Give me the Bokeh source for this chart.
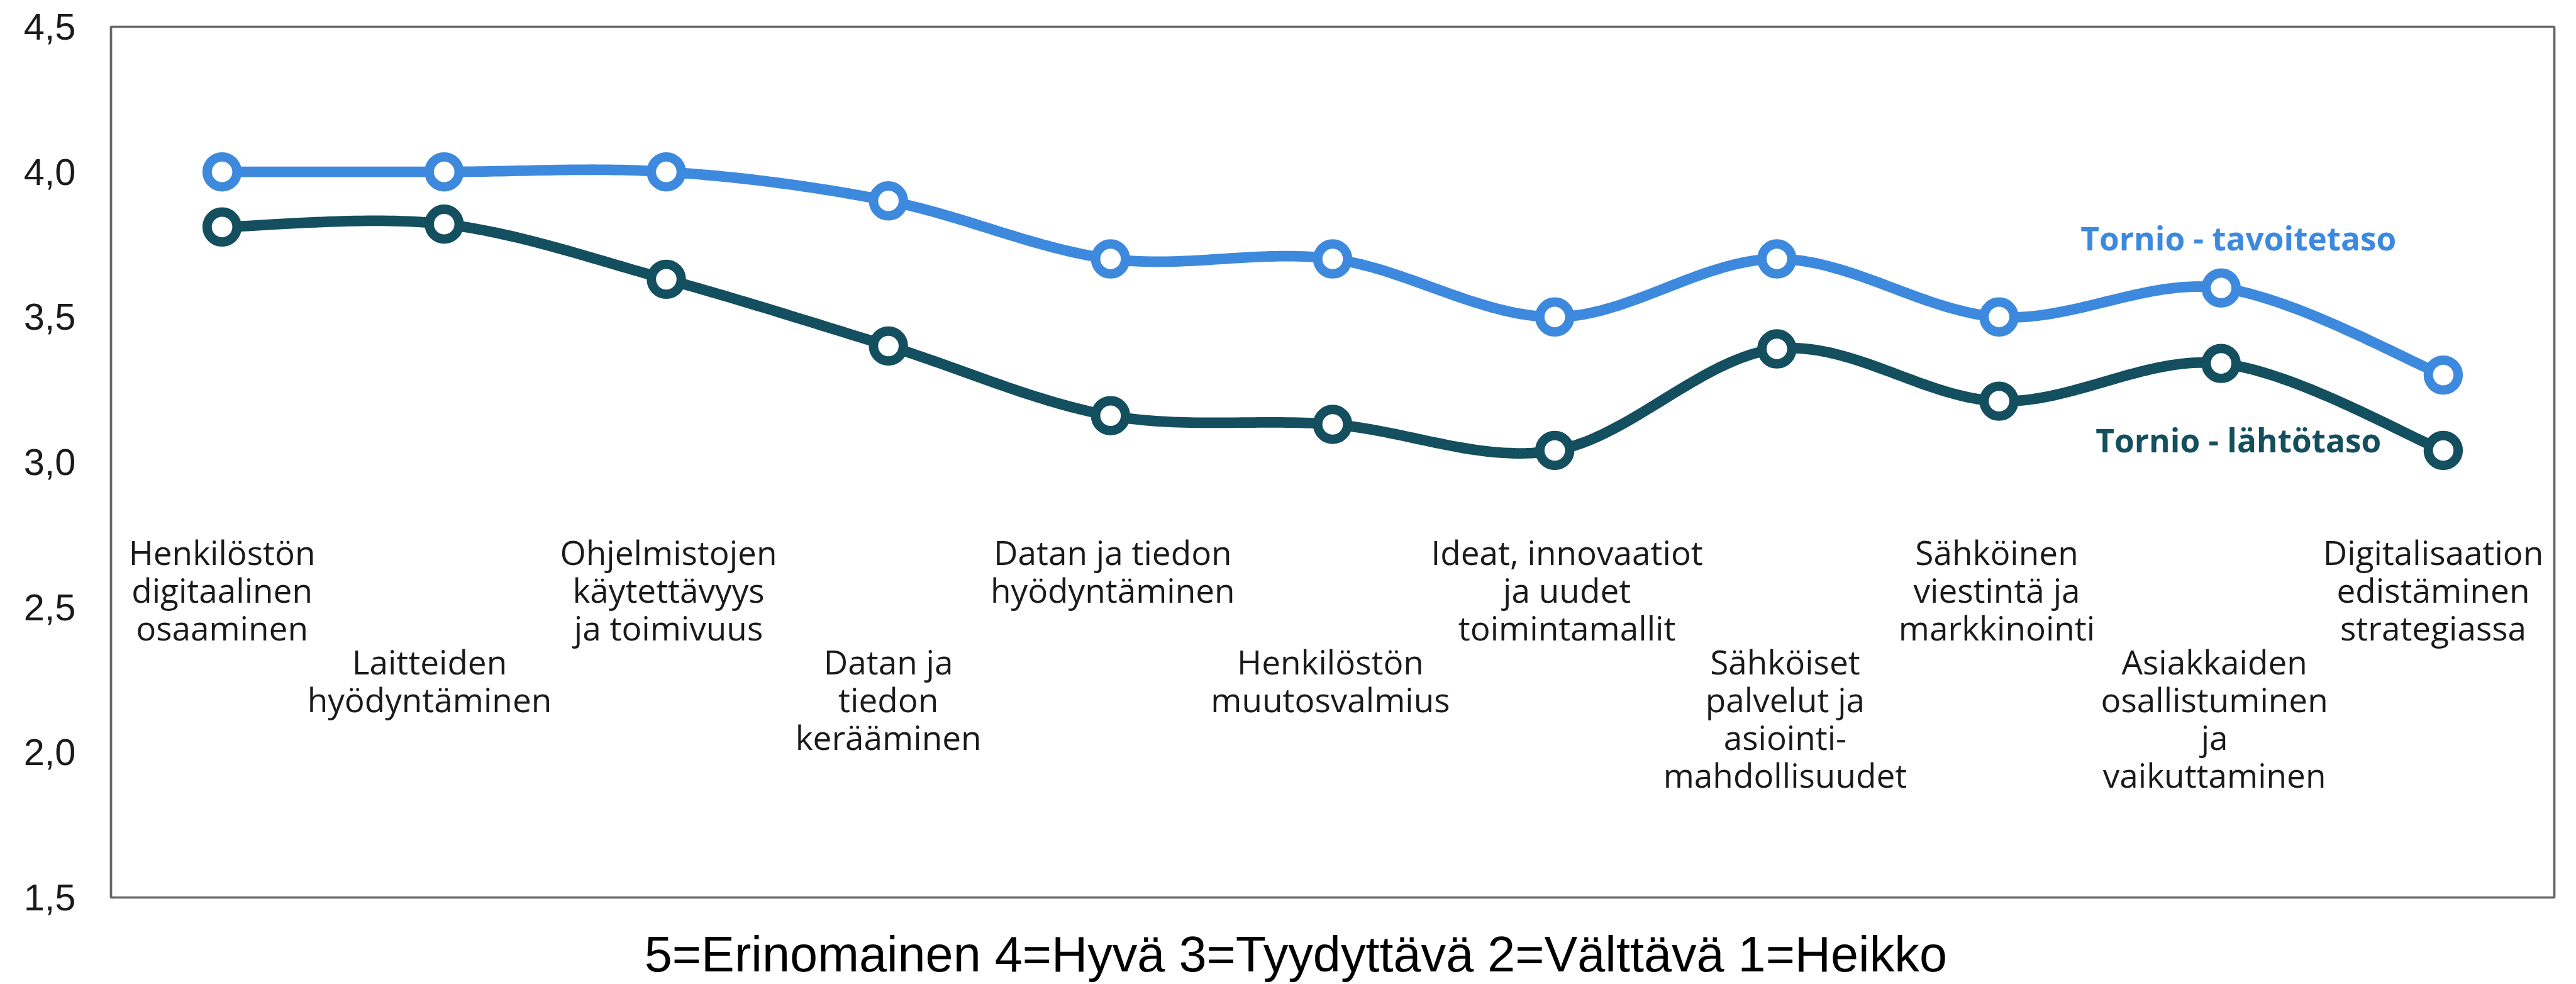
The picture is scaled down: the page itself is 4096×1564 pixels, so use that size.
import numpy as np
from bokeh.plotting import figure
from bokeh.layouts import column
from bokeh.models import Range1d, FixedTicker
from bokeh.core.properties import value
from bokeh.embed import file_html
from bokeh.resources import INLINE

# ---------------- data ----------------
categories = [
    "Henkilöstön\ndigitaalinen\nosaaminen",
    "Laitteiden\nhyödyntäminen",
    "Ohjelmistojen\nkäytettävyys\nja toimivuus",
    "Datan ja\ntiedon\nkerääminen",
    "Datan ja tiedon\nhyödyntäminen",
    "Henkilöstön\nmuutosvalmius",
    "Ideat, innovaatiot\nja uudet\ntoimintamallit",
    "Sähköiset\npalvelut ja\nasiointi-\nmahdollisuudet",
    "Sähköinen\nviestintä ja\nmarkkinointi",
    "Asiakkaiden\nosallistuminen\nja\nvaikuttaminen",
    "Digitalisaation\nedistäminen\nstrategiassa",
]
tavoitetaso = [4.0, 4.0, 4.0, 3.9, 3.7, 3.7, 3.5, 3.7, 3.5, 3.6, 3.3]
lahtotaso = [3.81, 3.82, 3.63, 3.40, 3.16, 3.13, 3.04, 3.39, 3.21, 3.34, 3.04]
series_names = ["Tornio - tavoitetaso", "Tornio - lähtötaso"]
y_ticks = [1.5, 2.0, 2.5, 3.0, 3.5, 4.0, 4.5]
y_tick_labels = ["1,5", "2,0", "2,5", "3,0", "3,5", "4,0", "4,5"]
caption = "5=Erinomainen 4=Hyvä 3=Tyydyttävä 2=Välttävä 1=Heikko"

# ---------------- layout / style ----------------
S = 0.932
BLUE = "#3D89DD"
DARK = "#134F5E"
label_row = [0, 1, 0, 1, 0, 1, 0, 1, 0, 1, 0]
label_dx = [0.0, -0.066, 0.01, 0.0, 0.01, -0.01, 0.055, 0.037, -0.01, -0.03, -0.045]
row_baseline = [2.66, 2.282]
line_step = 0.1303
series_label_x = 9.078
series_label_y = [3.742, 3.047]

W = 4096
FRAME_TOP, FRAME_BOTTOM = 42, 1426
H_MAIN = 1470
H_CAP = 1564 - H_MAIN
BL, BR = 176, 35
PX_PER_UNIT = (FRAME_BOTTOM - FRAME_TOP) / 3.0

CAT_FS = 57 * S
SER_FS = 55 * S
CAP_FS = 85 * S
# text is anchored at its x-height middle in this renderer: lift by half x-height
cat_lift = 0.2675 * CAT_FS / PX_PER_UNIT
ser_lift = 0.2675 * SER_FS / PX_PER_UNIT
cap_lift = 0.26 * CAP_FS

p = figure(width=W, height=H_MAIN, output_backend="svg", toolbar_location=None,
           x_range=Range1d(-0.5, 10.5), y_range=Range1d(1.5, 4.5),
           min_border_left=BL, min_border_right=BR, min_border_top=FRAME_TOP,
           min_border_bottom=H_MAIN - FRAME_BOTTOM)
p.background_fill_color = "white"
p.border_fill_color = "white"
p.outline_line_color = "#666666"
p.outline_line_width = 4 * S
p.xgrid.visible = False
p.ygrid.visible = False
p.xaxis.visible = False

ya = p.yaxis[0]
ya.ticker = FixedTicker(ticks=y_ticks)
ya.major_label_overrides = {t: l for t, l in zip(y_ticks, y_tick_labels)}
ya.axis_line_color = None
ya.major_tick_line_color = None
ya.minor_tick_line_color = None
ya.major_tick_in = 0
ya.major_tick_out = 0
ya.major_label_standoff = 56
ya.major_label_text_font = "Liberation Sans"
ya.major_label_text_font_size = f"{64 * S:.1f}px"
ya.major_label_text_color = "#1a1a1a"


def smooth(xs, ys, n=40):
    xs = np.asarray(xs, float)
    ys = np.asarray(ys, float)
    P = np.column_stack([xs, ys])
    out = []
    for i in range(len(P) - 1):
        p0 = P[i - 1] if i > 0 else P[i]
        p1 = P[i]
        p2 = P[i + 1]
        p3 = P[i + 2] if i + 2 < len(P) else P[i + 1]
        c1 = p1 + (p2 - p0) / 6.0
        c2 = p2 - (p3 - p1) / 6.0
        t = np.linspace(0, 1, n)[:, None]
        seg = ((1 - t) ** 3) * p1 + 3 * ((1 - t) ** 2) * t * c1 + 3 * (1 - t) * t ** 2 * c2 + t ** 3 * p2
        if i > 0:
            seg = seg[1:]
        out.append(seg)
    arr = np.vstack(out)
    return arr[:, 0], arr[:, 1]


xs = list(range(len(categories)))
for vals, col in [(tavoitetaso, BLUE), (lahtotaso, DARK)]:
    sx, sy = smooth(xs, vals)
    p.line(sx, sy, line_color=col, line_width=18 * S, line_join="round", line_cap="round")
for vals, col in [(tavoitetaso, BLUE), (lahtotaso, DARK)]:
    p.scatter(xs, vals, marker="circle", size=51 * S, fill_color="white",
              line_color=col, line_width=16 * S)

# category labels (one glyph entry per text line)
lx, ly, lt = [], [], []
for i, cat in enumerate(categories):
    for j, line in enumerate(cat.split("\n")):
        lx.append(i + label_dx[i])
        ly.append(row_baseline[label_row[i]] - j * line_step + cat_lift)
        lt.append(line)
p.text(x=lx, y=ly, text=lt, text_align="center", text_baseline="alphabetic",
       text_font=value("Open Sans"), text_font_size=f"{CAT_FS:.1f}px",
       text_color="#1a1a1a")

# series labels
p.text(x=[series_label_x, series_label_x], y=[v + ser_lift for v in series_label_y],
       text=series_names, text_align="center", text_baseline="alphabetic",
       text_font=value("Open Sans"), text_font_style="bold",
       text_font_size=f"{SER_FS:.1f}px", text_color=[BLUE, DARK])

# caption strip under the chart (same horizontal frame as the chart)
pc = figure(width=W, height=H_CAP, output_backend="svg", toolbar_location=None,
            x_range=Range1d(-0.5, 10.5), y_range=Range1d(0, H_CAP),
            min_border_left=BL, min_border_right=BR, min_border_top=0,
            min_border_bottom=0, x_axis_type=None, y_axis_type=None)
pc.outline_line_color = None
pc.background_fill_color = "white"
pc.border_fill_color = "white"
pc.xgrid.visible = False
pc.ygrid.visible = False
cap_y = H_CAP - (1537 - H_MAIN) + cap_lift
pc.text(x=[4.834], y=[cap_y], text=[caption], text_align="center",
        text_baseline="alphabetic", text_font=value("Liberation Sans"),
        text_font_size=f"{CAP_FS:.1f}px", text_color="#000000")

layout = column(p, pc, spacing=0)
open("out.html", "w").write(file_html(layout, INLINE))
